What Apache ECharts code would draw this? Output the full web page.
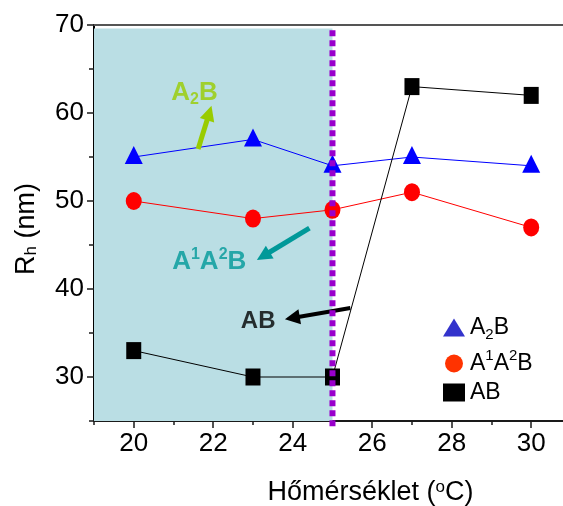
<!DOCTYPE html>
<html><head><meta charset="utf-8">
<script src="https://cdn.jsdelivr.net/npm/echarts@6/dist/echarts.min.js"></script>
<style>html,body{margin:0;padding:0;background:#fff}#c{width:563px;height:506px}</style>
</head><body><div id="c"></div>
<script>
// ---- data ----
const temps = [20, 23, 25, 27, 30];
const seriesNames = ['A2B', 'A1A2B', 'AB'];
const a2b = [55, 57, 54, 55, 54];
const a1a2b = [50, 48, 49, 51, 47];
const ab = [33, 30, 30, 63, 62];
const xTickLabels = [20, 22, 24, 26, 28, 30];
const xMinorTicks = [19, 21, 23, 25, 27, 29];
const yTickLabels = [30, 40, 50, 60, 70];
const yMinorTicks = [25, 35, 45, 55, 65];
const xRange = [19, 30.8];
const yRange = [25, 70];
const transitionTemp = 25;
const transitionYSpan = [24, 69.4];
const shadeRange = [19, 25];
const annotNames = ['A2B', 'A1A2B', 'AB'];
const annotX = [21.53, 21.9, 23.13];
const annotY = [62.3, 43.1, 36.35];
const arrowFromX = [21.62, 24.42, 25.45];
const arrowFromY = [55.9, 46.93, 37.84];
const arrowToX = [21.9, 23.26, 23.99];
const arrowToY = [60.0, 43.75, 36.7];

// ---- styles ----
const FONT = "'Liberation Sans', Arial, sans-serif";
const annotColors = ['#99CC00', '#009999', '#000000'];
const arrowWidths = [5, 5, 4];

function richName(n) {
  if (n === 'A2B') return '{n|A}{sub|2}{n|B}';
  if (n === 'A1A2B') return '{n|A}{sup|1}{n|A}{sup|2}{n|B}';
  return '{n|' + n + '}';
}
function richStyles(size, subSize, color, weight) {
  return {
    n: {fontSize: size, color: color, fontWeight: weight, fontFamily: FONT, lineHeight: 30, verticalAlign: 'middle'},
    sub: {fontSize: subSize, color: color, fontWeight: weight, fontFamily: FONT, lineHeight: 12, verticalAlign: 'bottom'},
    sup: {fontSize: subSize, color: color, fontWeight: weight, fontFamily: FONT, lineHeight: 20, verticalAlign: 'top'}
  };
}

const chart = echarts.init(document.getElementById('c'), null, {renderer: 'canvas'});

const axisColor = '#1a1a1a';
const option = {
  animation: false,
  backgroundColor: '#fff',
  grid: {left: 94, right: 0, top: 25, bottom: 85, containLabel: false, outerBoundsMode: 'none'},
  xAxis: [
    {type: 'value', min: xRange[0], max: xRange[1], position: 'bottom',
     axisLine: {show: true, onZero: false, lineStyle: {color: axisColor, width: 2}},
     axisTick: {show: true, customValues: xTickLabels, length: 7, lineStyle: {color: axisColor, width: 1.5}},
     axisLabel: {customValues: xTickLabels, fontSize: 26, color: '#000', margin: 10, fontFamily: FONT},
     splitLine: {show: false},
     name: 'Hőmérséklet ({sup|o}C)', nameLocation: 'middle', nameGap: 58,
     nameTextStyle: {fontSize: 27, color: '#000', fontFamily: FONT, padding: [0, 0, 0, 84],
       rich: {sup: {fontSize: 17, color: '#000', fontFamily: FONT, lineHeight: 16, verticalAlign: 'top'}}}
    },
    {type: 'value', min: xRange[0], max: xRange[1], position: 'bottom',
     axisLine: {show: false, onZero: false},
     axisTick: {show: true, customValues: xMinorTicks, length: 4, lineStyle: {color: axisColor, width: 1.5}},
     axisLabel: {show: false}, splitLine: {show: false}},
    {type: 'value', min: xRange[0], max: xRange[1], position: 'top',
     axisLine: {show: true, onZero: false, lineStyle: {color: '#555', width: 2}},
     axisTick: {show: false}, axisLabel: {show: false}, splitLine: {show: false}}
  ],
  yAxis: [
    {type: 'value', min: yRange[0], max: yRange[1], position: 'left',
     axisLine: {show: true, onZero: false, lineStyle: {color: '#000', width: 2}},
     axisTick: {show: true, customValues: yTickLabels, length: 7, lineStyle: {color: axisColor, width: 1.5}},
     axisLabel: {customValues: yTickLabels, fontSize: 26, color: '#000', margin: 10, fontFamily: FONT},
     splitLine: {show: false},
     name: 'R{sub|h} (nm)', nameLocation: 'middle', nameRotate: 90, nameGap: 54,
     nameTextStyle: {fontSize: 27, color: '#000', fontFamily: FONT, padding: [0, 12, 0, 0],
       rich: {sub: {fontSize: 17, color: '#000', fontFamily: FONT, lineHeight: 14, verticalAlign: 'bottom'}}}
    },
    {type: 'value', min: yRange[0], max: yRange[1], position: 'left',
     axisLine: {show: false, onZero: false},
     axisTick: {show: true, customValues: yMinorTicks, length: 5, lineStyle: {color: axisColor, width: 1.5}},
     axisLabel: {show: false}, splitLine: {show: false}}
  ],
  legend: {
    orient: 'vertical', left: 438, top: 311, itemWidth: 22, itemHeight: 18, itemGap: 6,
    data: [
      {name: seriesNames[0], icon: 'triangle', itemStyle: {color: '#3333CC'}},
      {name: seriesNames[1], icon: 'circle', itemStyle: {color: '#FF3300'}},
      {name: seriesNames[2], icon: 'rect', itemStyle: {color: '#000'}}
    ],
    formatter: richName,
    textStyle: {fontSize: 23, color: '#000', fontFamily: FONT, rich: richStyles(23, 15, '#000', 'normal')},
    selectedMode: false
  },
  series: [
    {type: 'line', name: 'shade', data: [], z: 0, silent: true,
     markArea: {silent: true, itemStyle: {color: '#BADEE4'},
       data: [[{coord: [shadeRange[0], yRange[0]]}, {coord: [shadeRange[1], 69.6]}]]}},
    {type: 'line', name: seriesNames[0], data: temps.map((t, i) => [t, a2b[i]]),
     symbol: 'triangle', symbolSize: [18, 18], symbolOffset: [0, -2],
     lineStyle: {color: '#0000FF', width: 1}, itemStyle: {color: '#0000FF'}, z: 3},
    {type: 'line', name: seriesNames[1], data: temps.map((t, i) => [t, a1a2b[i]]),
     symbol: 'circle', symbolSize: [16, 18],
     lineStyle: {color: '#FF0000', width: 1}, itemStyle: {color: '#FF0000'}, z: 3},
    {type: 'line', name: seriesNames[2], data: temps.map((t, i) => [t, ab[i]]),
     symbol: 'rect', symbolSize: [15, 17],
     lineStyle: {color: '#000', width: 1}, itemStyle: {color: '#000'}, z: 3},
    {type: 'scatter', name: 'annot', symbolSize: 0, z: 4, silent: true,
     data: annotNames.map((n, i) => ({
       value: [annotX[i], annotY[i]],
       label: {show: true, position: 'inside', formatter: richName(n),
         rich: richStyles(i === 2 ? 24 : 26, 16, annotColors[i], 'bold')}
     })),
     markLine: {silent: true, symbol: ['none', 'triangle'], symbolSize: 15, label: {show: false},
       data: annotNames.map((n, i) => [
         {coord: [arrowFromX[i], arrowFromY[i]], lineStyle: {color: annotColors[i], width: arrowWidths[i], type: 'solid'}, itemStyle: {color: annotColors[i]}},
         {coord: [arrowToX[i], arrowToY[i]]}
       ])}
    }
  ]
};
chart.setOption(option);

// transition line (extends slightly below the axis), positioned from data values
const pTop = chart.convertToPixel({xAxisIndex: 0, yAxisIndex: 0}, [transitionTemp, transitionYSpan[1]]);
const pBot = chart.convertToPixel({xAxisIndex: 0, yAxisIndex: 0}, [transitionTemp, transitionYSpan[0]]);
chart.setOption({
  graphic: [{type: 'line', z: 100, silent: true,
    shape: {x1: pTop[0], y1: pTop[1], x2: pBot[0], y2: pBot[1]},
    style: {stroke: '#9900CC', lineWidth: 6, lineDash: [6, 4], lineCap: 'butt'}}]
});
</script></body></html>
